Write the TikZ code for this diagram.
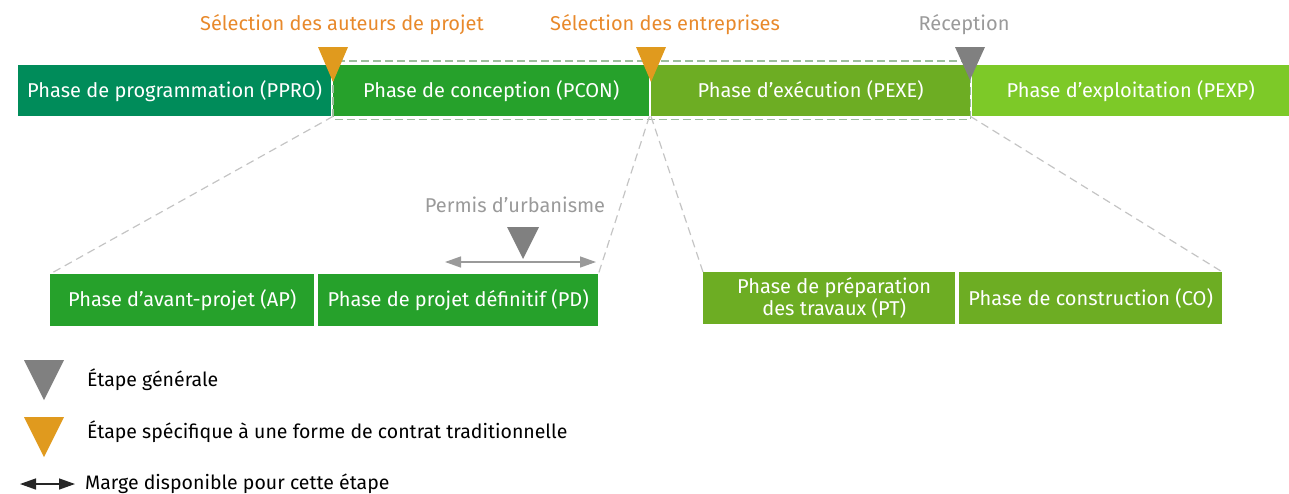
\documentclass[tikz,border=0pt]{standalone}
\usepackage{fontspec}
\setmainfont{Fira Sans}
\usetikzlibrary{arrows.meta}

\definecolor{ppro}{HTML}{008C5A}
\definecolor{pcon}{HTML}{26A12B}
\definecolor{pexe}{HTML}{6DAD23}
\definecolor{pexp}{HTML}{7DC928}
\definecolor{orange}{HTML}{E09A1E}
\definecolor{orangetxt}{HTML}{E8892B}
\definecolor{grisjalon}{HTML}{808080}
\definecolor{gristxt}{HTML}{9A9A9A}
\definecolor{grislien}{HTML}{C4C4C4}
\definecolor{vertcadre}{HTML}{9DBE9D}

\tikzset{
  barre/.style={fill=#1, text=white, minimum height=51pt, inner sep=0pt,
    anchor=north west, align=center, font=\fontsize{20}{20}\selectfont},
  lien/.style={draw=grislien, dashed, dash pattern=on 8pt off 5pt, line width=1.2pt},
  cadre/.style={draw=vertcadre, dash pattern=on 8pt off 4pt, line width=1.4pt},
  marge/.style={draw=#1, line width=1.4pt,
    {Triangle[length=16pt,width=11pt]}-{Triangle[length=16pt,width=11pt]}},
  etiq/.style={font=\fontsize{20}{20}\selectfont, inner sep=0pt},
  legende/.style={font=\fontsize{19.5}{20}\selectfont, inner sep=0pt, anchor=west},
}
% triangle : x, haut, demi-largeur, hauteur, couleur
\newcommand\etape[5]{\fill[#5] (#1-#3,#2) -- (#1+#3,#2) -- (#1,#2+#4) -- cycle;}

\begin{document}
\begin{tikzpicture}[x=1pt, y=-1pt]
  \useasboundingbox (0,0) rectangle (1289,493);
  % phases principales
  \node[barre=ppro, minimum width=313pt] (ppro) at (18,65) {Phase de programmation (PPRO)};
  \node[barre=pcon, minimum width=316pt] (pcon) at (333,65) {Phase de conception (PCON)};
  \node[barre=pexe, minimum width=319pt] (pexe) at (651,65) {Phase d’exécution (PEXE)};
  \node[barre=pexp, minimum width=317pt] (pexp) at (972,65) {Phase d’exploitation (PEXP)};
  \draw[cadre] ([yshift=4pt]pcon.north west) rectangle ([yshift=-3pt]pexe.south east);

  % sous-phases
  \node[barre=pcon, minimum width=264pt, minimum height=52pt] (ap) at (50,274) {Phase d’avant-projet (AP)};
  \node[barre=pcon, minimum width=280pt, minimum height=52pt] (pd) at (318,274) {Phase de projet définitif (PD)};
  \node[barre=pexe, minimum width=252pt, minimum height=52pt] (pt) at (703,272) {\hspace*{10pt}Phase de préparation\\\hspace*{10pt}des travaux (PT)};
  \node[barre=pexe, minimum width=263pt, minimum height=52pt] (co) at (959,272) {Phase de construction (CO)};

  \begin{scope}[lien]
    \draw (pcon.south west) -- (ap.north west);
    \draw (pcon.south east) -- (pd.north east);
    \draw (pexe.south west) -- (pt.north west);
    \draw (pexe.south east) -- (co.north east);
  \end{scope}

  % jalons
  \etape{333}{47}{15}{35}{orange}
  \etape{651}{47}{15}{35}{orange}
  \etape{970}{47}{15}{33}{grisjalon}
  \etape{523}{227}{16}{32}{grisjalon}
  \node[etiq, text=orangetxt] (auteurs) at (342,25) {Sélection des auteurs de projet};
  \node[etiq, text=orangetxt] (entreprises) at (665,25) {Sélection des entreprises};
  \node[etiq, text=gristxt] (reception) at (964,25) {Réception};
  \node[etiq, text=gristxt] (permis) at (515,205) {Permis d’urbanisme};
  \coordinate (m1) at (445,262);
  \coordinate (m2) at (596,262);
  \draw[marge=gristxt] (m1) -- (m2);

  % legende
  \etape{44}{360}{20}{40}{grisjalon}
  \etape{44}{417}{20}{40}{orange}
  \node[legende] (leg1) at (87,380) {Étape générale};
  \node[legende] (leg2) at (87,432) {Étape spécifique à une forme de contrat traditionnelle};
  \coordinate (l1) at (20,484);
  \coordinate (l2) at (75,484);
  \draw[marge=black!85] (l1) -- (l2);
  \node[legende] (leg3) at (85,484) {Marge disponible pour cette étape};
\end{tikzpicture}
\end{document}
